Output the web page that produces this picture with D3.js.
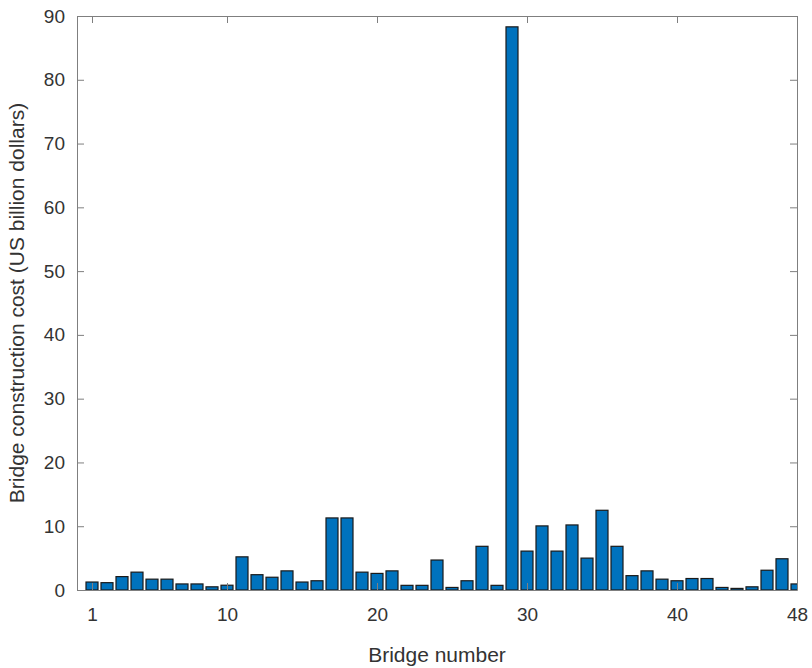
<!DOCTYPE html>
<meta charset="utf-8">
<style>
body { margin: 0; background: #fff; }
text { font-family: "Liberation Sans", Arial, sans-serif; }
.bar { fill: #0072BD; stroke: #1a1a1a; stroke-width: 1.2; }
.axis path, .axis line { stroke: #7f7f7f; }
.axis text { fill: #333; font-size: 19px; }
</style>
<body>
<script src="https://cdn.jsdelivr.net/npm/d3@7"></script>
<script>

// bridge numbers and costs (US billion dollars)
var bridges = d3.range(1, 49);
var costs = [1.25, 1.15, 2.1, 2.8, 1.7, 1.7, 0.95, 0.95, 0.5, 0.75,
             5.2, 2.4, 2.0, 3.0, 1.25, 1.45, 11.3, 11.3, 2.8, 2.6,
             3.0, 0.73, 0.73, 4.7, 0.4, 1.45, 6.85, 0.73, 88.3, 6.1,
             10.05, 6.1, 10.2, 5.0, 12.5, 6.85, 2.25, 3.0, 1.7, 1.45,
             1.8, 1.8, 0.4, 0.25, 0.5, 3.1, 4.9, 0.95];
var xTicks = [1, 10, 20, 30, 40, 48];
var yTicks = d3.range(0, 91, 10);

var margin = {top: 16, right: 15, bottom: 78, left: 77},
    width = 812 - margin.left - margin.right,
    height = 668 - margin.top - margin.bottom;

var x = d3.scaleLinear().domain([0, 48]).range([0, width]);
var y = d3.scaleLinear().domain([0, 90]).range([height, 0]);
var step = x(1) - x(0);

var svg = d3.select("body").append("svg")
    .attr("width", 812)
    .attr("height", 668)
  .append("g")
    .attr("transform", "translate(" + margin.left + "," + margin.top + ")");

svg.append("clipPath").attr("id", "clip")
  .append("rect").attr("width", width).attr("height", height);

// bars
svg.append("g").attr("clip-path", "url(#clip)")
  .selectAll(".bar")
  .data(costs)
  .enter().append("rect")
    .attr("class", "bar")
    .attr("x", function(d, i) { return x(bridges[i]) - step * 0.4; })
    .attr("width", step * 0.8)
    .attr("y", function(d) { return y(d); })
    .attr("height", function(d) { return height - y(d); });

// axes, ticks inward like matlab
svg.append("g").attr("class", "axis")
    .attr("transform", "translate(0," + height + ")")
    .call(d3.axisBottom(x).tickValues(xTicks).tickSizeInner(-7).tickSizeOuter(0).tickPadding(18));
svg.append("g").attr("class", "axis")
    .call(d3.axisTop(x).tickValues(xTicks).tickSizeInner(-7).tickSizeOuter(0).tickFormat(""));
svg.append("g").attr("class", "axis")
    .call(d3.axisLeft(y).tickValues(yTicks).tickSizeInner(-7).tickSizeOuter(0).tickPadding(12));
svg.append("g").attr("class", "axis")
    .attr("transform", "translate(" + width + ",0)")
    .call(d3.axisRight(y).tickValues(yTicks).tickSizeInner(-7).tickSizeOuter(0).tickFormat(""));

// labels
svg.append("text")
    .attr("x", width / 2)
    .attr("y", height + 72)
    .attr("text-anchor", "middle")
    .style("font-size", "21px")
    .style("fill", "#333")
    .text("Bridge number");

svg.append("text")
    .attr("transform", "rotate(-90)")
    .attr("x", -height / 2)
    .attr("y", -53)
    .attr("text-anchor", "middle")
    .style("font-size", "21px")
    .style("fill", "#333")
    .text("Bridge construction cost (US billion dollars)");

</script>
</body>
